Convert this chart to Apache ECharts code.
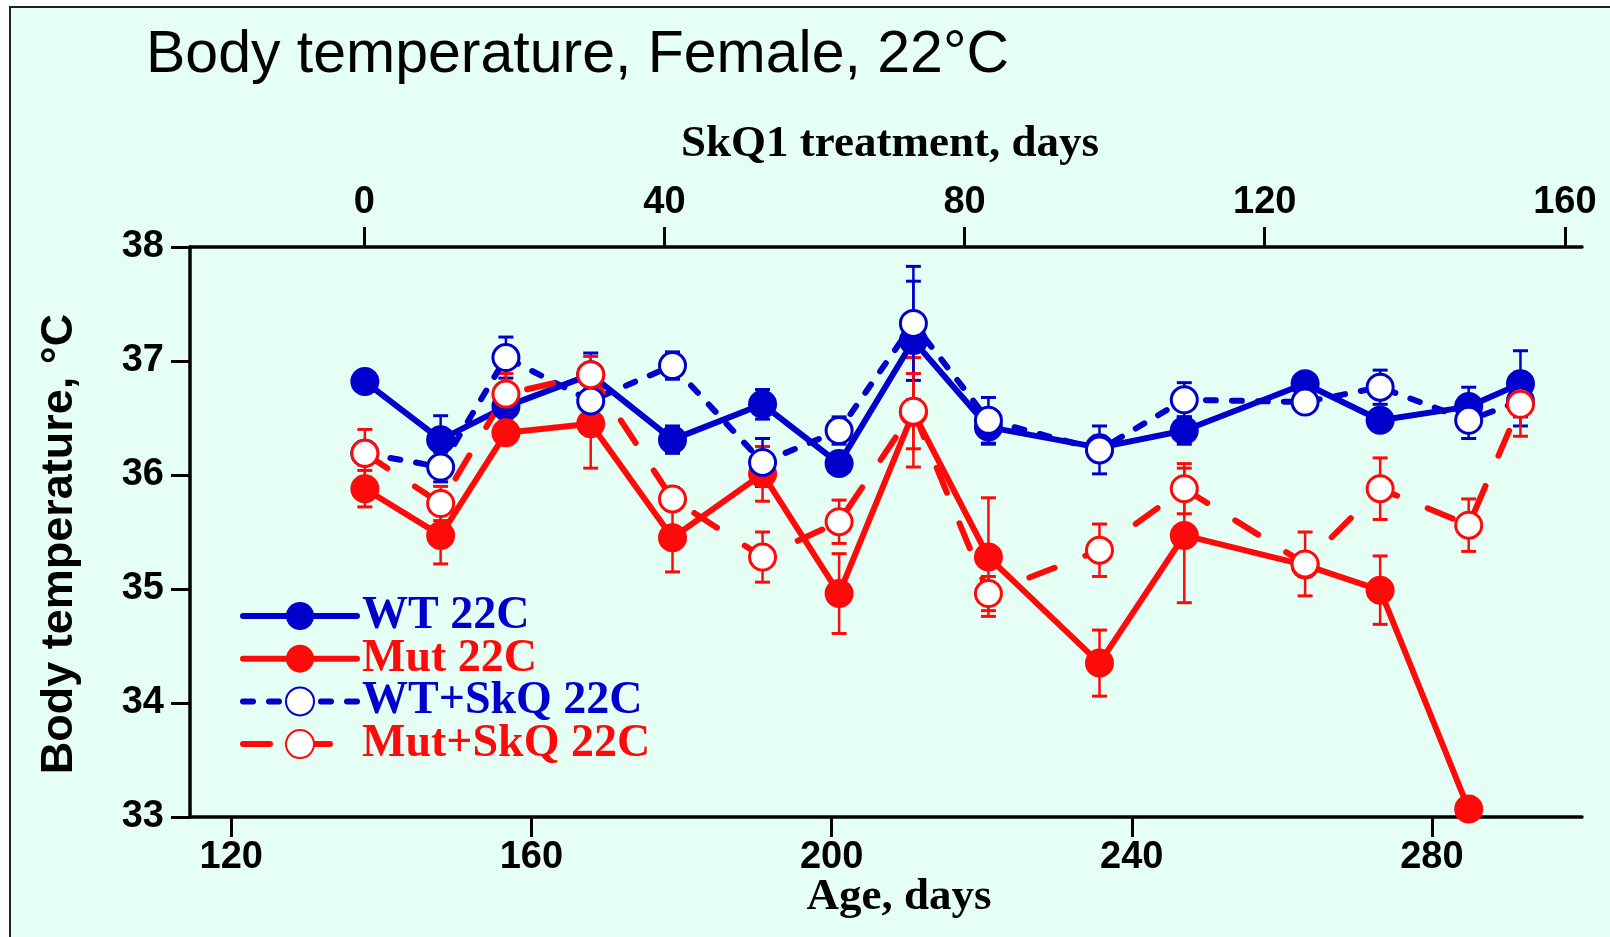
<!DOCTYPE html>
<html><head><meta charset="utf-8">
<script src="https://cdn.jsdelivr.net/npm/echarts@6/dist/echarts.min.js"></script>
<style>html,body{margin:0;padding:0;background:#fff}#c{width:1610px;height:937px}</style>
</head><body><div id="c"></div>
<script>
// Age (days) of each measurement
const ages = [137.8,147.9,156.6,167.9,178.8,190.8,201.0,210.9,220.9,235.7,247.0,263.1,273.1,284.9,291.8];
const bottomTicks = [120,160,200,240,280];
const topTicks = [0,40,80,120,160];
const seriesNames = ['WT 22C','Mut 22C','WT+SkQ 22C','Mut+SkQ 22C'];

const wt     = [36.82,36.31,36.60,36.88,36.31,36.62,36.10,37.18,36.42,36.24,36.39,36.80,36.48,36.60,36.80];
const wtErr  = [0.06,0.21,0.10,0.19,0.12,0.13,0.08,0.52,0.15,0.10,0.12,0.08,0.08,0.17,0.29];
const mut    = [35.88,35.47,36.37,36.45,35.45,36.01,34.96,36.55,35.28,34.35,35.47,35.21,34.99,33.07];
const mutErr = [0.16,0.25,0.10,0.39,0.30,0.24,0.35,0.48,0.52,0.29,0.59,0.10,0.30,0];
const wts    = [36.19,36.07,37.03,36.65,36.96,36.11,36.39,37.33,36.48,36.22,36.66,36.64,36.77,36.48,36.65];
const wtsErr = [0.10,0.13,0.18,0.10,0.12,0.21,0.12,0.50,0.20,0.21,0.15,0.08,0.15,0.16,0.22];
const muts   = [36.19,35.75,36.71,36.88,35.79,35.28,35.59,36.56,34.96,35.34,35.88,35.22,35.88,35.56,36.62];
const mutsErr= [0.21,0.15,0.18,0.16,0.10,0.22,0.19,0.33,0.15,0.23,0.22,0.28,0.27,0.23,0.28];

const BLUE = '#0000CC', RED = '#FF0A0A', BG = '#E6FFF4';
const pts = v => v.map((y,i)=>[ages[i], y]);
const errPts = (v,e) => v.map((y,i)=>[ages[i], y, e[i]]);

function errSeries(name, v, e, color){
  return {
    type:'custom', name:name, coordinateSystem:'cartesian2d', xAxisIndex:0, yAxisIndex:0,
    silent:true, encode:{x:0,y:1}, data:errPts(v,e),
    renderItem:function(params, api){
      const x = api.value(0), y = api.value(1), er = api.value(2);
      if (!er) return null;
      const a = api.coord([x, y+er]), b = api.coord([x, y-er]);
      const hw = 7.5;
      return {type:'group', children:[
        {type:'line', shape:{x1:a[0],y1:a[1],x2:b[0],y2:b[1]}, style:{stroke:color,lineWidth:2.5}},
        {type:'line', shape:{x1:a[0]-hw,y1:a[1],x2:a[0]+hw,y2:a[1]}, style:{stroke:color,lineWidth:3}},
        {type:'line', shape:{x1:b[0]-hw,y1:b[1],x2:b[0]+hw,y2:b[1]}, style:{stroke:color,lineWidth:3}}
      ]};
    }
  };
}
function lineSeries(name, v, color, open, dash){
  return {
    type:'line', name:name, xAxisIndex:0, yAxisIndex:0, data:pts(v),
    symbol:'circle', symbolSize: open ? 26 : 29, showSymbol:true,
    itemStyle: open ? {color:'#FFFFFF', borderColor:color, borderWidth:3} : {color:color, borderWidth:0},
    lineStyle:{color:color, width:6, type: dash || 'solid', cap:'round', join:'round'},
    emphasis:{disabled:true}
  };
}

const axisFont = {fontFamily:'"Liberation Sans", Arial, sans-serif', fontWeight:'bold', fontSize:38, color:'#000'};
const axisLineStyle = {color:'#000', width:3.5};
const chart = echarts.init(document.getElementById('c'), null, {renderer:'canvas'});
chart.setOption({
  animation:false,
  backgroundColor:'#FFFFFF',
  grid:{left:190, top:247, width:1392, height:570, containLabel:false},
  xAxis:[
    {type:'value', position:'bottom', min:114.5, max:300,
     axisLine:{show:true, onZero:false, lineStyle:axisLineStyle},
     axisTick:{show:true, inside:false, length:20, lineStyle:{color:'#000', width:3}, customValues:bottomTicks},
     axisLabel:Object.assign({margin:22, customValues:bottomTicks}, axisFont),
     splitLine:{show:false}},
    {type:'value', position:'top', min:114.5-137.72, max:300-137.72,
     axisLine:{show:true, onZero:false, lineStyle:axisLineStyle},
     axisTick:{show:true, inside:false, length:20, lineStyle:{color:'#000', width:3}, customValues:topTicks},
     axisLabel:Object.assign({margin:25, customValues:topTicks}, axisFont),
     splitLine:{show:false}}
  ],
  yAxis:{type:'value', min:33, max:38, interval:1,
     axisLine:{show:true, onZero:false, lineStyle:axisLineStyle},
     axisTick:{show:true, inside:false, length:19, lineStyle:{color:'#000', width:3}},
     axisLabel:Object.assign({margin:26, padding:[0,0,10,0]}, axisFont),
     splitLine:{show:false}},
  legend:{
    orient:'vertical', left:235, top:588, itemWidth:114, itemHeight:35, itemGap:-3.3,
    data:[
      {name:seriesNames[0], textStyle:{color:BLUE}},
      {name:seriesNames[1], textStyle:{color:RED}},
      {name:seriesNames[2], textStyle:{color:BLUE}},
      {name:seriesNames[3], textStyle:{color:RED}}
    ],
    lineStyle:{width:6},
    textStyle:{fontFamily:'"Liberation Serif", "Times New Roman", serif', fontWeight:'bold', fontSize:46, lineHeight:42, padding:[0,0,0,0]},
    selectedMode:false
  },
  graphic:[
    {type:'rect', z:-100, silent:true, shape:{x:10, y:7, width:1650, height:980}, style:{fill:BG, stroke:'#222', lineWidth:2}},
    {type:'text', x:146, y:55.6, silent:true, style:{text:'Body temperature, Female, 22°C', fontFamily:'"Liberation Sans", Arial, sans-serif', fontSize:59, fill:'#000', verticalAlign:'middle', align:'left'}},
    {type:'text', x:890, y:144, silent:true, style:{text:'SkQ1 treatment, days', fontFamily:'"Liberation Serif", "Times New Roman", serif', fontWeight:'bold', fontSize:45, fill:'#000', verticalAlign:'middle', align:'center'}},
    {type:'text', x:899, y:897, silent:true, style:{text:'Age, days', fontFamily:'"Liberation Serif", "Times New Roman", serif', fontWeight:'bold', fontSize:45, fill:'#000', verticalAlign:'middle', align:'center'}},
    {type:'text', x:60, y:544, rotation:Math.PI/2, silent:true, style:{text:'Body temperature, °C', fontFamily:'"Liberation Sans", Arial, sans-serif', fontWeight:'bold', fontSize:45, fill:'#000', verticalAlign:'middle', align:'center'}}
  ],
  series:[
    errSeries('WT err', wt, wtErr, BLUE),
    lineSeries(seriesNames[0], wt, BLUE, false),
    errSeries('Mut err', mut, mutErr, RED),
    lineSeries(seriesNames[1], mut, RED, false),
    errSeries('WT+SkQ err', wts, wtsErr, BLUE),
    lineSeries(seriesNames[2], wts, BLUE, true, [10,16]),
    errSeries('Mut+SkQ err', muts, mutsErr, RED),
    lineSeries(seriesNames[3], muts, RED, true, [27,33])
  ]
});
</script></body></html>
